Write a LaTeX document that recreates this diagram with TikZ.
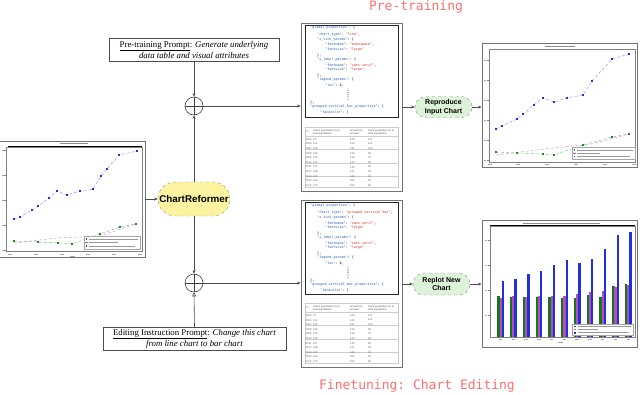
\documentclass[tikz,border=0pt]{standalone}
\usepackage{fontspec}
\setmainfont{Liberation Serif}
\setsansfont{Liberation Sans}
\setmonofont{DejaVu Sans Mono}
\usetikzlibrary{arrows.meta,shadows,shapes.misc}
\definecolor{redt}{HTML}{FF6F6F}
\definecolor{crfill}{HTML}{FCF3A0}
\definecolor{pillfill}{HTML}{DDF3D9}
\definecolor{jkey}{HTML}{2B5BB5}
\definecolor{jstr}{HTML}{C8322A}
\definecolor{pblue}{HTML}{2030E0}
\definecolor{pgreen}{HTML}{1E8A1E}
\definecolor{ppink}{HTML}{C858C8}
\newcommand{\jk}[1]{\textcolor{jkey}{"#1"}}
\newcommand{\js}[1]{\textcolor{jstr}{"#1"}}
\newcommand{\jsonlines}[4]{%
 \node[jt] (#1l1) at (310,28+#2) {\jk{global\_properties}: \{};
 \node[jt] (#1l2) at (317,35+#2) {\jk{chart\_type}: \js{#3},};
 \node[jt] (#1l3) at (317,40+#2) {\jk{x\_tick\_params}: \{};
 \node[jt] (#1l4) at (325,45+#2) {\jk{fontname}: \js{#4},};
 \node[jt] (#1l5) at (325,50+#2) {\jk{fontsize}: \js{large}};
 \node[jt] (#1l6) at (317,55+#2) {\},};
 \node[jt] (#1l7) at (317,60+#2) {\jk{y\_label\_params}: \{};
 \node[jt] (#1l8) at (325,65+#2) {\jk{fontname}: \js{sans-serif},};
 \node[jt] (#1l9) at (325,70+#2) {\jk{fontsize}: \js{large}};
 \node[jt] (#1l10) at (317,75+#2) {\},};
 \node[jt] (#1l11) at (317,80+#2) {\jk{legend\_params}: \{};
 \node[jt] (#1l12) at (325,85+#2) {\jk{loc}: 4,};
 \foreach \d in {0,...,6} \fill (348,89+\d*1.8+#2) circle (0.45);
 \node[jt] (#1l13) at (310,102+#2) {\},};
 \node[jt] (#1l14) at (310,107+#2) {\jk{grouped\_vertical\_bar\_properties}: \{};
 \node[jt] (#1l15) at (320,112+#2) {\jk{facecolor}: [};
}
\newcommand{\datatable}[2]{%
 \node[tt] (#1h1) at (306,132+#2) {Yr};
 \node[tt,align=left] (#1h2) at (313,132+#2) {Urban population (\% of\\total population)};
 \node[tt,align=left] (#1h3) at (350,132+#2) {Growth (\%\\annual)};
 \node[tt,align=left] (#1h4) at (368,132+#2) {Rural population (\% of\\total population)};
 \foreach \s in {136,149,163,176} \draw[black!20,line width=0.3] (305,\s+#2) -- (398,\s+#2);
 \foreach \yr/\a/\b/\c [count=\r from 0] in {2005/37/126/137,2006/110/129/115,2007/118/131/102,2008/124/134/98,2009/130/138/97,2010/134/140/96,2011/137/142/95,2012/148/147/94,2013/155/149/92,2014/164/152/91,2015/170/155/90}{
  \node[tt] (#1ra\r) at (305.5,139.5+\r*4.6+#2) {\yr};
  \node[tt] (#1rb\r) at (313,139.5+\r*4.6+#2) {\a};
  \node[tt] (#1rc\r) at (350,139.5+\r*4.6+#2) {\b};
  \node[tt] (#1rd\r) at (368,139.5+\r*4.6+#2) {\c};
 }
}
\begin{document}
\begin{tikzpicture}[x=1pt,y=-1pt,
 conn/.style={draw=black!70,line width=0.6pt,-{Stealth[length=3.5pt,width=3pt]}},
 openconn/.style={draw=black!70,line width=0.6pt,-{Triangle[open,length=4pt,width=4pt]}},
 prompt/.style={draw=black!70,fill=white,line width=0.5pt,drop shadow={shadow xshift=0.8pt,shadow yshift=-0.8pt,fill=black!45},align=center,font=\fontsize{8.8}{9.8}\selectfont,inner sep=1pt},
 crstyle/.style={rounded rectangle,draw=black!45,dashed,fill=crfill,font=\sffamily\bfseries\fontsize{9.8}{11}\selectfont,inner sep=0pt},
 pillstyle/.style={rounded rectangle,draw=black!45,dashed,fill=pillfill,font=\sffamily\bfseries\fontsize{7}{8.5}\selectfont,align=center,inner sep=0pt},
 pluscirc/.style={circle,draw=black!75,line width=0.6pt,fill=white,minimum size=18pt,inner sep=0pt},
 panel/.style={draw=black!55,line width=0.8pt,fill=white,drop shadow={shadow xshift=1pt,shadow yshift=-1pt,fill=black!35}},
 jbox/.style={draw=black!85,line width=0.6pt,fill=white,drop shadow={shadow xshift=0.8pt,shadow yshift=-0.8pt,fill=black!40}},
 tbox/.style={draw=black!20,line width=0.4pt,fill=white},
 chartbox/.style={draw=black!55,line width=0.8pt,fill=white,drop shadow={shadow xshift=1pt,shadow yshift=-1pt,fill=black!35}},
 redtitle/.style={text=redt,font=\ttfamily\fontsize{13}{15}\selectfont},
 jt/.style={anchor=west,inner sep=0pt,font=\ttfamily\fontsize{3.4}{4}\selectfont},
 tt/.style={anchor=west,inner sep=0pt,text=black!65,font=\sffamily\fontsize{2.6}{3}\selectfont},
 ghost/.style={draw=black!45,line width=0.9pt},
 axisf/.style={draw=black!50,line width=0.3pt}
]
\useasboundingbox (0,0) rectangle (640,394);

% titles
\node[redtitle] (ptitle) at (416,7) {Pre-training};
\node[redtitle] (ftitle) at (417,386) {Finetuning: Chart Editing};

% ---------- input chart ----------
\node[chartbox,minimum width=146pt,minimum height=116pt] (inchart) at (72,199) {};
\draw[axisf] (6,147) rectangle (142,251);
\draw[black,line width=0.9pt] (8,146.3) -- (142,146.3);
\draw[ghost] (60,143.6) -- (88,143.6);
\foreach \t in {150,175,200,225,250} {\draw[axisf] (4,\t) -- (6,\t); \draw[black!35,line width=0.6pt] (1.5,\t) -- (3.5,\t);}
\foreach \t in {10,36,62,88,114,140} \draw[black!35,line width=0.6pt] (\t-2,254) -- (\t+2,254);
\draw[black!35,line width=0.6pt] (70,256) -- (75,256);
\draw[pblue!55,densely dashed,line width=0.4pt] plot coordinates {(14,219) (20,217) (32,210) (38,206) (49,198) (57,191) (67,195) (80,191) (93,189) (101,176) (107,169) (119,155) (137,151)};
\foreach \x/\y in {14/219,20/217,32/210,38/206,49/198,57/191,67/195,80/191,93/189,101/176,107/169,119/155,137/151} \fill[pblue] (\x-0.8,\y-0.8) rectangle (\x+0.8,\y+0.8);
\draw[ppink!70,densely dashed,line width=0.4pt] plot coordinates {(14,243) (57,238) (100,236) (136,224)};
\draw[pgreen!60,densely dashed,line width=0.4pt] plot coordinates {(14,241) (38,242) (58,243) (72,244) (86,239) (100,234) (120,227) (136,224)};
\foreach \x/\y in {14/241,38/242,58/243,72/244,86/239,100/234,120/227,136/224} \fill[pgreen] (\x-0.8,\y-0.8) rectangle (\x+0.8,\y+0.8);
\draw[black!35,line width=0.3pt,fill=white] (84,236) rectangle (140,249);
\fill[pgreen] (85.5,238.2) rectangle (87,239.7); \draw[black!40,line width=0.7pt] (89,239) -- (138,239);
\draw[ppink,line width=0.6pt] (85,242.5) -- (88,242.5); \draw[black!40,line width=0.7pt] (89,242.5) -- (118,242.5);
\fill[pblue] (85.5,245.2) rectangle (87,246.7); \draw[black!40,line width=0.7pt] (89,246) -- (135,246);

% ---------- ChartReformer ----------
\node[crstyle,minimum width=72pt,minimum height=34pt] (cr) at (194,199) {ChartReformer};

% prompts
\node[prompt,minimum width=170pt,minimum height=23pt] (tp) at (194,49.5) {\underline{Pre-training Prompt}: \textit{Generate underlying}\\\textit{data table and visual attributes}};
\node[prompt,minimum width=183pt,minimum height=23pt] (bp) at (194.5,338.5) {\underline{Editing Instruction Prompt}: \textit{Change this chart}\\\textit{from line chart to bar chart}};

% plus circles
\node[pluscirc] (c1) at (194,106) {};
\draw[black!75,line width=0.6pt] (c1.north) -- (c1.south) (c1.west) -- (c1.east);
\node[pluscirc] (c2) at (194,283) {};
\draw[black!75,line width=0.6pt] (c2.north) -- (c2.south) (c2.west) -- (c2.east);

% ---------- panels ----------
\node[panel,minimum width=101pt,minimum height=168pt] (p1) at (351.5,107) {};
\node[jbox,minimum width=93pt,minimum height=92pt] (j1) at (351.5,71) {};
\node[tbox,minimum width=93pt,minimum height=60pt] (t1) at (351.5,157) {};
\jsonlines{a}{0}{line}{monospace}
\datatable{a}{0}

\node[panel,minimum width=101pt,minimum height=167pt] (p2) at (351.5,283.5) {};
\node[jbox,minimum width=93pt,minimum height=92pt] (j2) at (351.5,248) {};
\node[tbox,minimum width=93pt,minimum height=60pt] (t2) at (351.5,333) {};
\jsonlines{b}{178}{grouped vertical bar}{sans-serif}
\datatable{b}{176}

% pills
\node[pillstyle,minimum width=57pt,minimum height=21pt] (r1) at (443.5,107) {Reproduce\\Input Chart};
\node[pillstyle,minimum width=57pt,minimum height=22pt] (r2) at (441.5,284) {Replot New\\Chart};

% ---------- reproduced chart ----------
\node[chartbox,minimum width=155pt,minimum height=124pt] (oc1) at (559.5,105) {};
\draw[axisf] (489,49) rectangle (635,162);
\draw[ghost] (545,46.5) -- (575,46.5);
\foreach \t in {60,80,100,120,140,160} {\draw[axisf] (487,\t) -- (489,\t); \draw[black!35,line width=0.6pt] (484,\t) -- (486,\t);}
\foreach \t in {490,518,547,576,605,634} \draw[black!35,line width=0.6pt] (\t-2,164.5) -- (\t+2,164.5);
\draw[pblue!55,densely dashed,line width=0.4pt] plot coordinates {(496,129) (502,126) (517,119) (523,114) (534,105) (543,98) (554,102) (567,98) (583,95) (592,81) (612,59) (629,54)};
\foreach \x/\y in {496/129,502/126,517/119,523/114,534/105,543/98,554/102,567/98,583/95,592/81,612/59,629/54} \fill[pblue] (\x-0.9,\y-0.9) rectangle (\x+0.9,\y+0.9);
\draw[ppink!70,densely dashed,line width=0.4pt] plot coordinates {(496,155) (553,148) (592,144) (629,134)};
\draw[pgreen!60,densely dashed,line width=0.4pt] plot coordinates {(496,152) (517,153) (543,154) (554,155) (583,145) (612,137) (629,134)};
\foreach \x/\y in {496/152,517/153,543/154,554/155,583/145,612/137,629/134} \fill[pgreen] (\x-0.9,\y-0.9) rectangle (\x+0.9,\y+0.9);
\draw[black!35,line width=0.3pt,fill=white] (572,147) rectangle (635,159.5);
\fill[pgreen] (573.5,149.2) rectangle (575,150.7); \draw[black!40,line width=0.7pt] (577,150) -- (633,150);
\draw[ppink,line width=0.6pt] (573,153.3) -- (576,153.3); \draw[black!40,line width=0.7pt] (577,153.3) -- (600,153.3);
\fill[pblue] (573.5,155.8) rectangle (575,157.3); \draw[black!40,line width=0.7pt] (577,156.6) -- (630,156.6);

% ---------- bar chart ----------
\node[chartbox,minimum width=155pt,minimum height=127pt] (oc2) at (559.5,283.5) {};
\draw[axisf] (490,226) rectangle (635,337);
\draw[black,line width=0.9pt] (490,225.5) -- (635,225.5);
\draw[ghost] (523,223) -- (600,223);
\foreach \t in {240,265,290,315} {\draw[axisf] (488,\t) -- (490,\t); \draw[black!35,line width=0.6pt] (485,\t) -- (487,\t);}
\foreach \g/\m/\b [count=\i from 0] in {296/298/281,297/296/279,297/297/274,297/296/271,297/296/265,298/296/260,298/294/263,295/292/259,297/291/249,286/287/235,284/285/232}{
 \pgfmathsetmacro{\s}{497.3+12.77*\i}
 \fill[pgreen!85!black] (\s,\g) rectangle (\s+2.3,337);
 \fill[ppink!90!black] (\s+2.2,\m) rectangle (\s+4.5,337);
 \fill[pblue] (\s+4.4,\b) rectangle (\s+6.7,337);
 \draw[black!35,line width=0.6pt] (\s+1.5,339.5) -- (\s+5,339.5);
}
\draw[black!35,line width=0.6pt] (558,342.5) -- (563,342.5);
\draw[black!35,line width=0.3pt,fill=white] (572,324) rectangle (633,335);
\fill[pgreen!85!black] (573.5,325.6) rectangle (576,327.2); \draw[black!40,line width=0.7pt] (577.5,326.4) -- (631,326.4);
\fill[ppink!90!black] (573.5,328.8) rectangle (576,330.4); \draw[black!40,line width=0.7pt] (577.5,329.6) -- (598,329.6);
\fill[pblue] (573.5,332) rectangle (576,333.6); \draw[black!40,line width=0.7pt] (577.5,332.8) -- (629,332.8);

% ---------- connectors ----------
\draw[conn] (tp.south) -- (c1.north);
\draw[conn] (cr.north) -- (c1.south);
\draw[conn] (c1.east) -- (c1.east -| p1.west);
\draw[conn] (cr.south) -- (c2.north);
\draw[openconn] (bp.north) -- (c2.south);
\draw[conn] (c2.east) -- (c2.east -| p2.west);
\draw[conn] (inchart.east) -- (cr.west);
\draw[conn] (p1.east |- r1.west) -- (r1.west);
\draw[conn] (r1.east) -- (r1.east -| oc1.west);
\draw[conn] (p2.east |- r2.west) -- (r2.west);
\draw[conn] (r2.east) -- (r2.east -| oc2.west);
\end{tikzpicture}
\end{document}
